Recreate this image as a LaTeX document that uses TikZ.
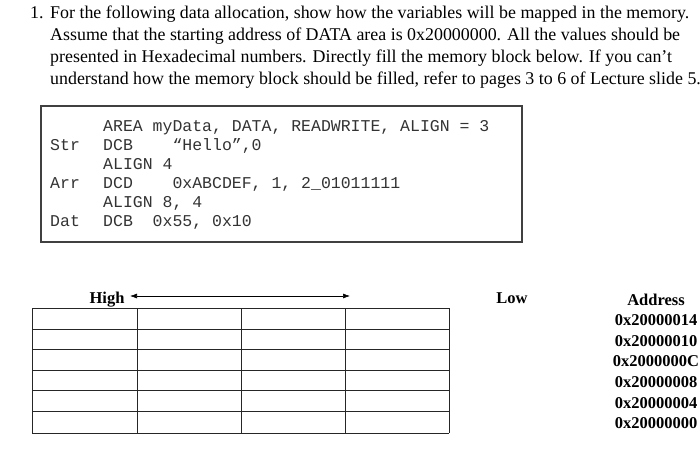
\documentclass[tikz,border=0pt]{standalone}
\usepackage{fontspec}
\setmainfont{Liberation Serif}
\setmonofont{Liberation Mono}
\usetikzlibrary{arrows.meta}
\begin{document}
\begin{tikzpicture}[x=1pt,y=-1pt,
  para/.style={anchor=base west,inner sep=0,font=\fontsize{17.9}{20}\selectfont},
  code/.style={anchor=base west,inner sep=0,font=\ttfamily\fontsize{16.5}{19}\selectfont,text=black!80},
  bl/.style={anchor=base,inner sep=0,font=\bfseries\fontsize{16.5}{18}\selectfont}]
\useasboundingbox (0,0) rectangle (700,475);
\node[para] (n1) at (30,18) {1.};
\node[para] (p1) at (50,18) {For the following data allocation, show how the variables will be mapped in the memory.};
\node[para] (p2) at (50,40) {Assume that the starting address of DATA area is 0x20000000. All the values should be};
\node[para] (p3) at (50,62) {presented in Hexadecimal numbers. Directly fill the memory block below. If you can’t};
\node[para] (p4) at (50,84) {understand how the memory block should be filled, refer to pages 3 to 6 of Lecture slide 5.};
\draw[line width=1.3pt,black!75] (41,106) rectangle (522,242);
\node[code] (c1) at (103,131) {AREA myData, DATA, READWRITE, ALIGN = 3};
\node[code] (l1) at (50,150) {Str};
\node[code] (c2) at (103,150) {DCB\ \ \ \ “Hello”,0};
\node[code] (c3) at (103,169) {ALIGN 4};
\node[code] (l2) at (50,188) {Arr};
\node[code] (c4) at (103,188) {DCD\ \ \ \ 0xABCDEF, 1, 2\_01011111};
\node[code] (c5) at (103,207) {ALIGN 8, 4};
\node[code] (l3) at (50,226) {Dat};
\node[code] (c6) at (103,226) {DCB\ \ 0x55, 0x10};
\node[bl] (hi) at (107,303) {High};
\node[bl] (lo) at (512,303) {Low};
\coordinate (a1) at (130,296); \coordinate (a2) at (350,296);
\draw[{Latex[length=7pt,width=5pt]}-{Latex[length=7pt,width=5pt]},line width=0.6pt] (a1) -- (a2);
\foreach \y in {308,329,349,370,390,411,433} \draw[black!85,line width=0.8pt] (32,\y) -- (449,\y);
\foreach \x in {32,137,241,345,449} \draw[black!85,line width=0.8pt] (\x,308) -- (\x,433);
\node[bl] (ad) at (656,305) {Address};
\foreach \a [count=\i] in {0x20000014,0x20000010,0x2000000C,0x20000008,0x20000004,0x20000000}
  \node[bl] (r\i) at (656,305+20.6*\i) {\a};
\end{tikzpicture}
\end{document}
